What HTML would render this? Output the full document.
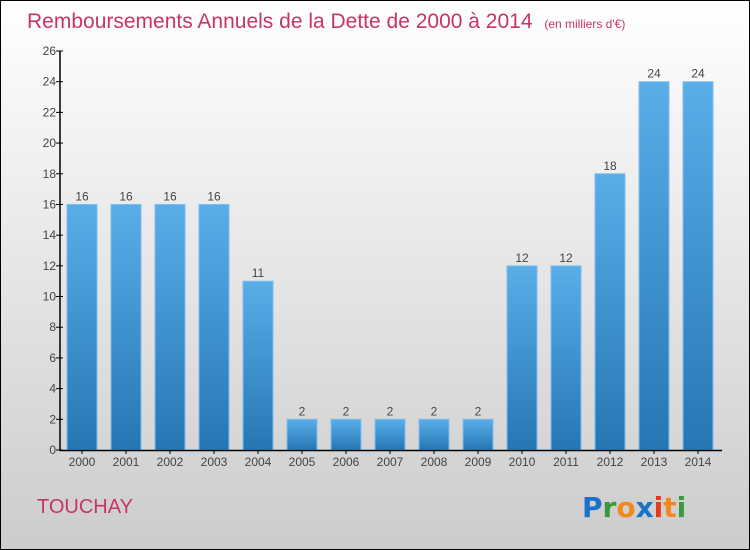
<!DOCTYPE html>
<html><head><meta charset="utf-8"><style>
body{margin:0;width:750px;height:550px;overflow:hidden;font-family:"Liberation Sans",sans-serif}
#c{position:absolute;left:0;top:0;width:748px;height:548px;border:1px solid #000;background:linear-gradient(#fff,#ccc)}
</style></head><body>
<div id="c"></div>
<svg id="s" width="750" height="550" style="position:absolute;left:0;top:0">
<text x="27" y="28" font-size="21" fill="#c8336a">Remboursements Annuels de la Dette de 2000 à 2014 <tspan font-size="12" dx="6">(en milliers d'€)</tspan></text>
<text x="37" y="513" font-size="20" fill="#c8336a">TOUCHAY</text>
<g font-size="28" font-weight="bold" font-family="'DejaVu Sans',sans-serif">
<text x="582" y="517"><tspan fill="#1a73c8">P</tspan><tspan fill="#3a9a3a">r</tspan><tspan fill="#f08a1c">o</tspan><tspan fill="#1a73c8">x</tspan><tspan fill="#e83a1a">i</tspan><tspan fill="#f08a1c">t</tspan><tspan fill="#3a9a3a">i</tspan></text></g>
<defs><linearGradient id="g" x1="0" y1="0" x2="0" y2="1"><stop offset="0" stop-color="#5aaee8"/><stop offset="1" stop-color="#2676b4"/></linearGradient></defs>
<g id="bars"></g><g id="axes"></g>
</svg>
<script>
const years=["2000","2001","2002","2003","2004","2005","2006","2007","2008","2009","2010","2011","2012","2013","2014"];
const values=[16,16,16,16,11,2,2,2,2,2,12,12,18,24,24];
const yTicks=[0,2,4,6,8,10,12,14,16,18,20,22,24,26];
const NS="http://www.w3.org/2000/svg";
const y0=450,yTop=51,yMax=26;
const y=v=>y0-(v/yMax)*(y0-yTop);
const x=i=>82+i*44;
function mk(t,a,p){const e=document.createElementNS(NS,t);for(const k in a)e.setAttribute(k,a[k]);p.appendChild(e);return e;}
const B=document.getElementById('bars'),A=document.getElementById('axes');
values.forEach((v,i)=>{
 const r=mk('rect',{x:x(i)-15,y:y(v),width:30,height:y0-y(v),fill:'url(#g)',stroke:'#7cc0ee','stroke-width':1},B);
 
 
 const t=mk('text',{x:x(i),y:y(v)-4,'text-anchor':'middle','font-size':12,fill:'#444'},B);t.textContent=v;
 
 
 const l=mk('text',{x:x(i),y:466,'text-anchor':'middle','font-size':12,fill:'#444'},A);l.textContent=years[i];
 
 
 mk('line',{x1:x(i),x2:x(i),y1:450,y2:454,stroke:'#000'},A);
});
yTicks.forEach(v=>{
 mk('line',{x1:56,x2:63,y1:y(v),y2:y(v),stroke:'#000'},A);
 const t=mk('text',{x:56,y:y(v)+4,'text-anchor':'end','font-size':12,fill:'#444'},A);t.textContent=v;
 
 
});
const ya=mk('line',{x1:60,x2:60,y1:51,y2:451,stroke:'#000','stroke-width':1.5},A);


const xa=mk('line',{x1:60,x2:722,y1:450.5,y2:450.5,stroke:'#000','stroke-width':1.5},A);


</script>
</body></html>
